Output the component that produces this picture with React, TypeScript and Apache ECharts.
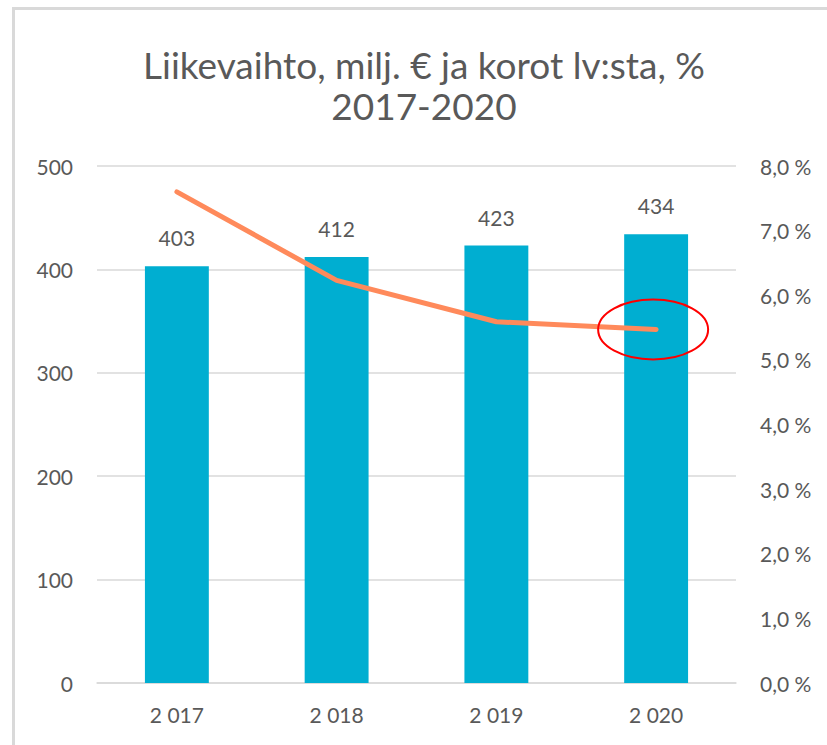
import React, { useEffect, useRef } from "react";
import * as echarts from "echarts";

const categories = ["2 017", "2 018", "2 019", "2 020"];
const revenue = [403, 412, 423, 434];
const interestPct = [7.6, 6.23, 5.59, 5.47];
const titleLines = ["Liikevaihto, milj. € ja korot lv:sta, %", "2017-2020"];

const FONT = "Lato";
const TEXT = "#595959";

export default function App() {
  const ref = useRef<HTMLDivElement>(null);
  useEffect(() => {
    document.body.style.margin = "0";
    const chart = echarts.init(ref.current!, null, { renderer: "svg" });
    chart.setOption({
      animation: false,
      backgroundColor: "#ffffff",
      textStyle: { fontFamily: FONT },
      grid: { left: 97, right: 91, top: 166, bottom: 62, outerBoundsMode: "none" },
      xAxis: {
        type: "category",
        data: categories,
        axisLine: { lineStyle: { color: "#d9d9d9", width: 1.5 } },
        axisTick: { show: false },
        axisLabel: { color: TEXT, fontSize: 21, fontFamily: FONT, margin: 21 },
      },
      yAxis: [
        {
          type: "value",
          min: 0,
          max: 500,
          interval: 100,
          axisLine: { show: false },
          axisTick: { show: false },
          axisLabel: { color: TEXT, fontSize: 21, fontFamily: FONT, margin: 24 },
          splitLine: { lineStyle: { color: "#d9d9d9", width: 1.5 } },
        },
        {
          type: "value",
          min: 0,
          max: 8,
          interval: 1,
          position: "right",
          axisLine: { show: false },
          axisTick: { show: false },
          splitLine: { show: false },
          axisLabel: {
            color: TEXT,
            fontSize: 21,
            fontFamily: FONT,
            margin: 24,
            formatter: (v: number) => v.toFixed(1).replace(".", ",") + " %",
          },
        },
      ],
      series: [
        {
          type: "bar",
          data: revenue,
          barWidth: "40%",
          itemStyle: { color: "#00AED1" },
          label: {
            show: true,
            position: "top",
            distance: 18,
            color: TEXT,
            fontSize: 21,
            fontFamily: FONT,
          },
        },
        {
          type: "line",
          yAxisIndex: 1,
          data: interestPct,
          showSymbol: false,
          symbol: "none",
          lineStyle: { color: "#FF8A5B", width: 5, cap: "round" },
          z: 3,
        },
      ],
    });
    const p = chart.convertToPixel({ xAxisIndex: 0, yAxisIndex: 1 }, [3, interestPct[3]]) as number[];
    chart.setOption({
      graphic: [
        {
          type: "rect",
          shape: { x: 13.5, y: 8.5, width: 1000, height: 1000 },
          style: { fill: "none", stroke: "#d9d9d9", lineWidth: 3 },
          silent: true,
        },
        {
          type: "text",
          style: {
            x: 424,
            y: 64,
            text: titleLines[0],
            textAlign: "center",
            textVerticalAlign: "middle",
            fontFamily: FONT,
            fontSize: 37,
            fill: TEXT,
          },
        },
        {
          type: "text",
          style: {
            x: 424,
            y: 105,
            text: titleLines[1],
            textAlign: "center",
            textVerticalAlign: "middle",
            fontFamily: FONT,
            fontSize: 37,
            fill: TEXT,
          },
        },
        {
          type: "ellipse",
          shape: { cx: p[0] - 3, cy: p[1], rx: 55, ry: 30 },
          style: { fill: "none", stroke: "#FF0000", lineWidth: 2 },
          z: 10,
        },
      ],
    });
    return () => chart.dispose();
  }, []);
  return <div ref={ref} style={{ width: 827, height: 745 }} />;
}
